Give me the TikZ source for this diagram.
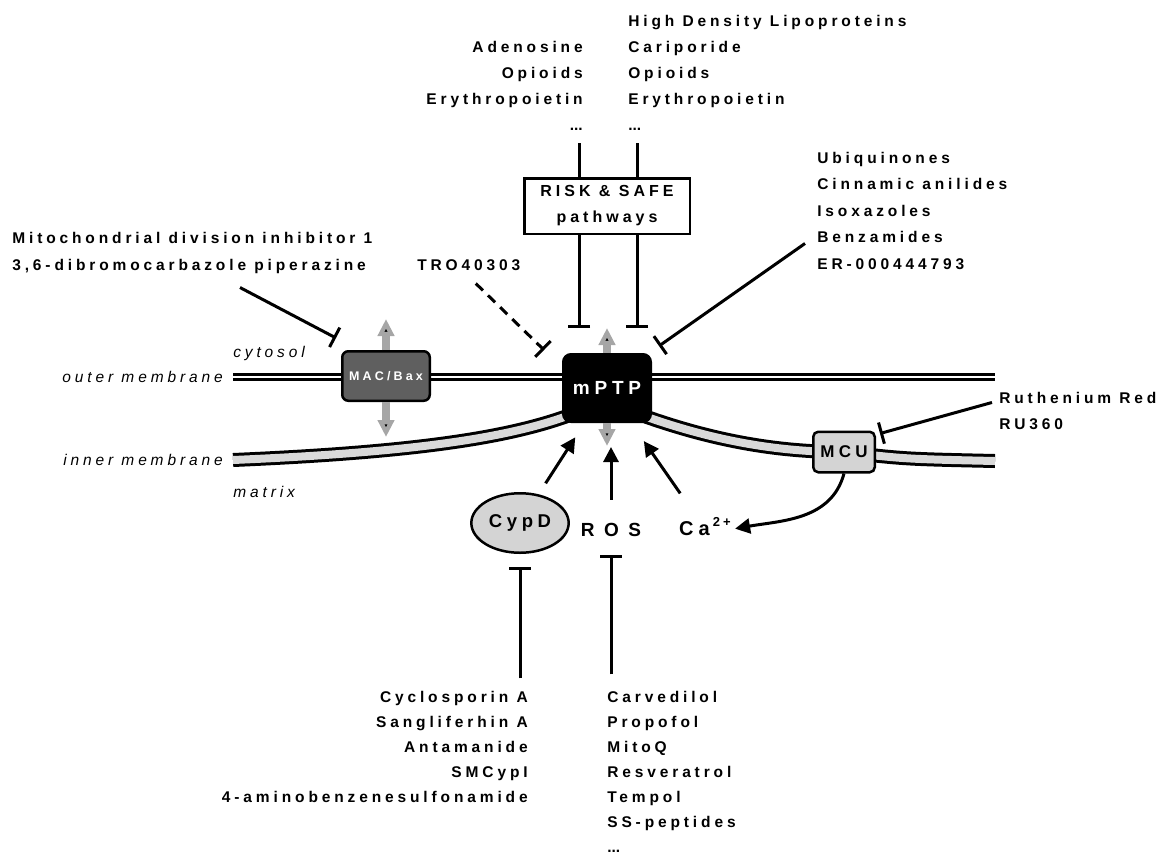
\documentclass[tikz,border=0pt]{standalone}
\usepackage{fontspec}
\setmainfont{Liberation Sans}[LetterSpace=25]
\usepackage{tikz}
\usetikzlibrary{arrows.meta}
\usetikzlibrary{positioning}
\usetikzlibrary{calc, shapes, backgrounds}
\definecolor{macgray}{HTML}{5F5F5F}
\definecolor{memgray}{HTML}{D9D9D9}
\definecolor{boxgray}{HTML}{D4D4D4}
\definecolor{arrowgray}{HTML}{A6A6A6}
\newcommand{\moredots}{{\addfontfeature{LetterSpace=0}...}}

\begin{document}
\begin{tikzpicture}[x=1pt,y=1pt,>={Triangle[length=15pt,width=15pt]},semithick]
 \tikzstyle{pore node}=[rectangle,rounded corners=8pt,draw=black,fill=black,line width=2pt,text=white,minimum width=88pt,minimum height=68pt,font=\fontsize{19}{19}\selectfont\bfseries]
 \tikzstyle{mac node}=[rectangle,rounded corners=6pt,draw=black,fill=macgray,line width=2.5pt,text=white,minimum width=87.5pt,minimum height=49.5pt,font=\fontsize{12.5}{12.5}\selectfont\bfseries]
 \tikzstyle{mcu node}=[rectangle,rounded corners=5pt,draw=black,fill=boxgray,line width=2.5pt,minimum width=61.5pt,minimum height=40.5pt,font=\fontsize{17}{17}\selectfont\bfseries]
 \tikzstyle{path node}=[rectangle,draw=black,line width=2.5pt,minimum width=165.5pt,minimum height=55.5pt,align=center,font=\fontsize{16}{26}\selectfont\bfseries]
 \tikzstyle{cyp node}=[ellipse,draw=black,fill=boxgray,line width=2.5pt,minimum width=82.5pt,minimum height=59.5pt,font=\fontsize{18.5}{18.5}\selectfont\bfseries]
 \tikzset{
 	drug node/.style={inner sep=0pt,font=\fontsize{15.5}{26}\selectfont\bfseries},
 	place node/.style={inner sep=0pt,font=\fontsize{15.5}{26}\selectfont\itshape},
 	ion node/.style={inner sep=2pt,font=\fontsize{19}{19}\selectfont\bfseries},
 	act/.style={->,line width=3pt},
 	inh/.style={-{Bar[width=22pt]},line width=3pt},
 	grey arrow/.style={-{Triangle[length=17pt,width=16pt]},line width=8pt,draw=arrowgray},
 	outer mem/.style={draw=black,line width=3pt,double=white,double distance=2.5pt},
 	inner mem/.style={draw=black,line width=3pt,double=memgray,double distance=8pt}
 }

       \useasboundingbox (0,0) rectangle (1174,-865);

       % channels in the membranes
       \node[pore node] (mptp) at (607,-388) {mPTP};
       \node[mac node] (mac) at (386,-376) {MAC/Bax};
       \node[mcu node] (mcu) at (844,-452) {MCU};
       \node[path node] (risk) at (607,-206) {RISK \& SAFE\\pathways};

       % matrix side
       \node[cyp node] (cypd) at (520,-523) {CypD};
       \node[ion node,font=\fontsize{19}{19}\selectfont\bfseries\addfontfeature{LetterSpace=50}] (ros) at (611,-530) {ROS};
       \node[ion node,font=\fontsize{20}{20}\selectfont\bfseries] (ca) at (705,-529) {Ca\hspace{3pt}\smash{\raisebox{9.5pt}{\fontsize{13}{13}\selectfont 2+}}};

       % drug lists (anchored at the baseline of their last line)
       \node[drug node,anchor=base west,align=left] (hdl) at (628,-130) {High Density Lipoproteins\\Cariporide\\Opioids\\Erythropoietin\\\moredots};
       \node[drug node,anchor=base east,align=right] (adl) at (583,-130) {Adenosine\\Opioids\\Erythropoietin\\\moredots};
       \node[drug node,anchor=base west,align=left,font=\fontsize{15.5}{26.5}\selectfont\bfseries] (ubq) at (817,-269) {Ubiquinones\\Cinnamic anilides\\Isoxazoles\\Benzamides\\ER-000444793};
       \node[drug node,anchor=base west,align=left,font=\fontsize{15.5}{27}\selectfont\bfseries] (mdi) at (12,-270) {Mitochondrial division inhibitor 1\\3,6-dibromocarbazole piperazine};
       \node[drug node,anchor=base west] (tro) at (417,-270) {TRO40303};
       \node[drug node,anchor=base west,align=left] (rr) at (999,-429) {Ruthenium Red\\RU360};
       \node[drug node,anchor=base east,align=right,font=\fontsize{15.5}{25}\selectfont\bfseries] (cyl) at (528,-802) {Cyclosporin A\\Sangliferhin A\\Antamanide\\SMCypI\\4-aminobenzenesulfonamide};
       \node[drug node,anchor=base west,align=left,font=\fontsize{15.5}{25}\selectfont\bfseries] (rsl) at (607,-852) {Carvedilol\\Propofol\\MitoQ\\Resveratrol\\Tempol\\SS-peptides\\\moredots};

       % compartments
       \node[place node,anchor=base west] (cyt) at (233,-357) {cytosol};
       \node[place node,anchor=base east] (om) at (223,-382) {outer membrane};
       \node[place node,anchor=base east] (im) at (223,-465) {inner membrane};
       \node[place node,anchor=base west] (mat) at (233,-497) {matrix};

       \coordinate (om-l) at (233,-377);
       \coordinate (om-r) at (995,-377);
       \coordinate (im-l) at (233,-460);
       \coordinate (im-r) at (995,-461);
       \coordinate (mptp-up) at (607,-328);
       \coordinate (mptp-dn) at (607,-446);
       \coordinate (mac-up) at (386,-319);
       \coordinate (mac-dn) at (386,-437);

     \begin{scope}[on background layer]
       \draw[outer mem] (om-l) -- (om-r);
       \draw[inner mem] (im-l) .. controls (420,-452) and (510,-437) .. ([xshift=8pt,yshift=-27pt]mptp.west);
       \draw[inner mem] ([xshift=-8pt,yshift=-28pt]mptp.east) .. controls (712,-440) and (775,-452) .. (mcu.center) .. controls (905,-459) .. (im-r);
     \end{scope}

     \path[grey arrow] (mptp) edge (mptp-up);
     \path[grey arrow] (mptp) edge (mptp-dn);
     \path[grey arrow] (mac) edge (mac-up);
     \path[grey arrow] (mac) edge (mac-dn);

     \path[act] (cypd) edge[shorten <=13pt,shorten >=17pt] (mptp);
     \path[act] (ros.north) edge[shorten <=21pt,shorten >=24pt] (ros.north |- mptp.south);
     \path[act] (ca) edge[shorten <=32pt,shorten >=22pt] (mptp);
     \path[act] (mcu.south) edge[out=-105,in=10,shorten >=2pt] (ca.east);

     \path[inh] ([xshift=-28pt]risk.south) edge[shorten >=25pt] ([xshift=-28pt]mptp.north);
     \path[inh] ([xshift=30pt]risk.south) edge[shorten >=25pt] ([xshift=30pt]mptp.north);
     \path[line width=3pt] ([xshift=-28pt]risk.north) edge[shorten >=13pt] ([xshift=-28pt]risk.north |- adl.south);
     \path[line width=3pt] ([xshift=30pt]risk.north) edge[shorten >=13pt] ([xshift=30pt]risk.north |- hdl.south);
     \path[inh,dashed,dash pattern=on 10pt off 7pt] ([xshift=7pt,yshift=-13pt]tro.south) edge ([xshift=-18pt,yshift=3pt]mptp.north west);
     \path[inh] ([xshift=-12pt,yshift=-33pt]ubq.west) edge ([xshift=7pt,yshift=7pt]mptp.north east);
     \path[inh] ([xshift=228pt,yshift=-14pt]mdi.south west) edge ([xshift=-5pt,yshift=12pt]mac.north west);
     \path[inh] ([xshift=-7pt,yshift=8pt]rr.west) edge ([xshift=4pt,yshift=-3pt]mcu.north east);
     \path[inh] ([yshift=12pt]cyl.north -| cypd.south) edge[shorten >=13pt] (cypd.south);
     \path[inh] ([yshift=16pt]rsl.north -| ros.south) edge[shorten >=16pt] (ros.south);
 \end{tikzpicture}
\end{document}
